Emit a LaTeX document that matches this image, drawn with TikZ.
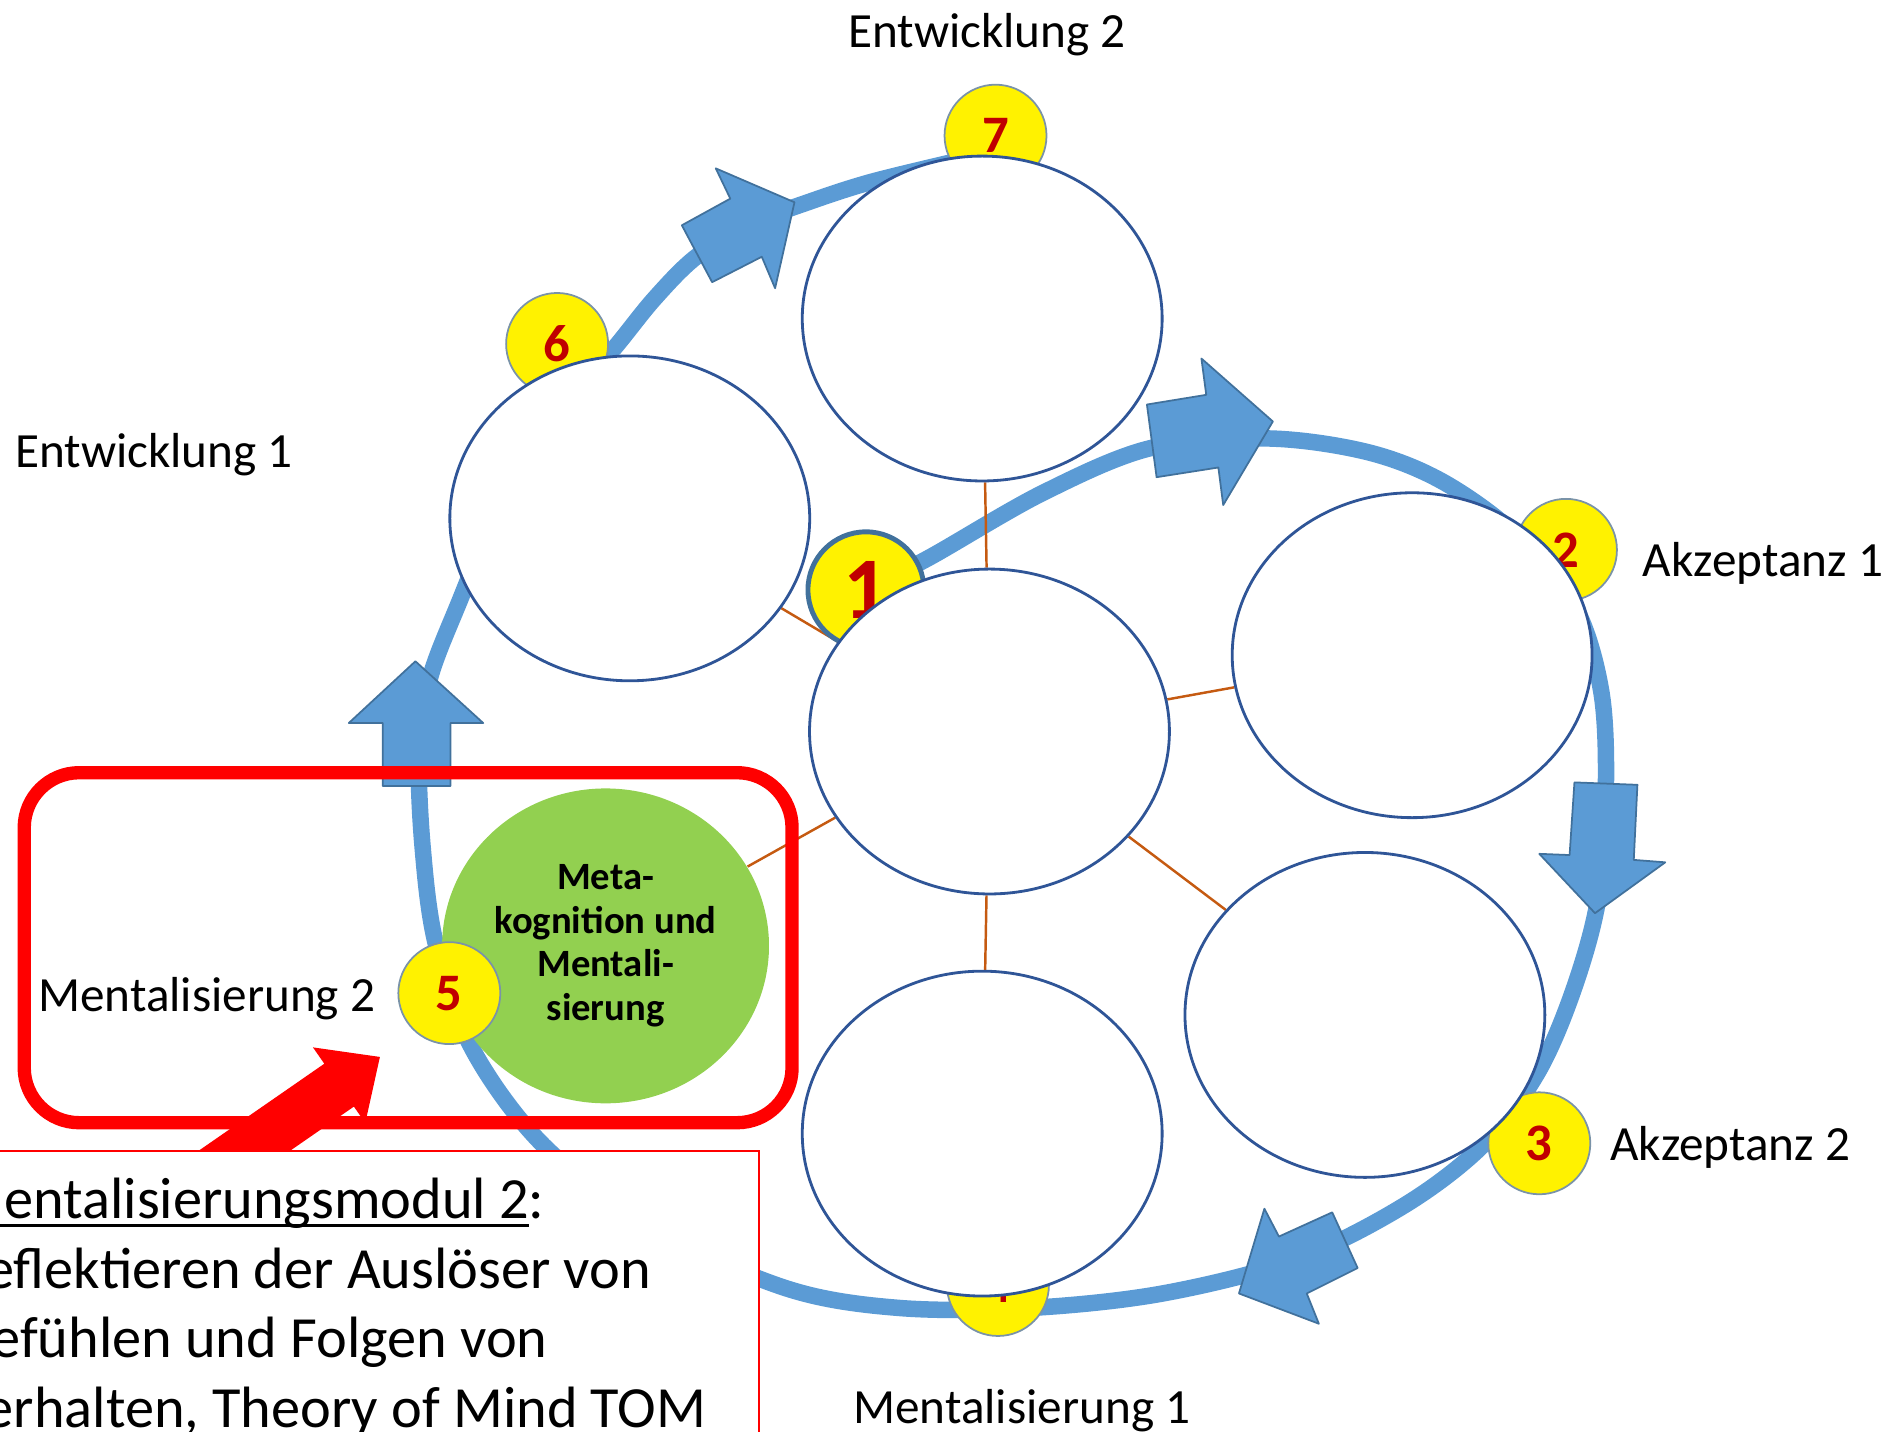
\documentclass[tikz,border=0pt]{standalone}
\usepackage{fontspec}
\setmainfont{Carlito}
\usetikzlibrary{shapes.geometric}

\definecolor{ringblue}{HTML}{5B9BD5}
\definecolor{ringedge}{HTML}{41719C}
\definecolor{ovaledge}{HTML}{2F5597}
\definecolor{badgeedge}{HTML}{7A93A8}
\definecolor{linkbrown}{HTML}{C55A11}
\definecolor{badgered}{HTML}{C00000}
\definecolor{metagreen}{HTML}{92D050}
\definecolor{alertred}{HTML}{FF0000}

\pgfdeclarelayer{back}
\pgfdeclarelayer{mid}
\pgfdeclarelayer{front}
\pgfsetlayers{back,mid,main,front}

\newcommand\modline[1]{\setbox0=\hbox{#1}\rlap{\rule[-2.5pt]{\wd0}{0.75pt}}\box0}

\tikzset{
	oval/.style={ellipse,draw=ovaledge,line width=0.8pt,fill=white,minimum width=3.6cm,minimum height=3.25cm,inner sep=0pt},
	meta/.style={ellipse,fill=metagreen,minimum width=3.27cm,minimum height=3.15cm,inner sep=0pt,align=center,font=\fontsize{11}{12.4}\selectfont\bfseries},
	badge/.style={circle,draw=badgeedge,line width=0.5pt,fill=yellow,minimum size=1.02cm,inner sep=0pt,text=badgered,font=\fontsize{15}{15}\selectfont\bfseries},
	bigbadge/.style={badge,draw=ringedge,line width=1.4pt,minimum size=1.16cm,font=\fontsize{25}{25}\selectfont\bfseries},
	stage/.style={inner sep=0pt,font=\fontsize{14}{14}\selectfont},
	link/.style={draw=linkbrown,line width=0.7pt},
	ring/.style={draw=ringblue,line width=4.7pt},
	blk/.style={fill=ringblue,draw=ringedge,line width=0.5pt,line join=round},
	frame/.style={draw=alertred,line width=3.8pt,rounded corners=0.55cm},
	infobox/.style={draw=alertred,line width=0.6pt,fill=white},
	infotext/.style={inner sep=0pt,align=left,font=\fontsize{16.6}{19.9}\selectfont},
}

\begin{document}
\begin{tikzpicture}[x=0.012111cm,y=-0.012111cm]
	\useasboundingbox (0,0) rectangle (1568,1182);

	% the seven fields
	\node[oval] (entw2) at (811,263) {};
	\node[oval] (entw1) at (520,428) {};
	\node[oval] (kern) at (817,604) {};
	\node[oval] (akz1) at (1166,541) {};
	\node[oval] (akz2) at (1127,838) {};
	\node[oval] (ment1) at (811,936) {};
	\node[meta] (ment2) at (500,781) {Meta-\\kognition und\\Mentali-\\sierung};

	% ring and links behind
	\begin{pgfonlayer}{back}
		\draw[ring] plot[smooth,tension=0.55] coordinates {
			(715,487) (768,460) (861,407) (950,370) (1046,362) (1128,373) (1190,397)
			(1250,440) (1300,500) (1322,570) (1326,650) (1320,740) (1300,815) (1270,885)
			(1225,945) (1160,995) (1070,1040) (960,1068) (850,1080) (743,1080) (650,1064)
			(540,1015) (449,946) (390,866) (360,780) (349,700) (346,620) (355,560)
			(380,495) (420,400) (465,333) (505,290) (540,247) (575,212) (620,185)
			(670,166) (720,150) (790,133)};
		\foreach \x in {entw2,entw1,akz1,akz2,ment1,ment2}
		\draw[link] (kern) -- (\x);
	\end{pgfonlayer}

	% numbers and arrow heads on the ring
	\begin{pgfonlayer}{mid}
		\node[badge] (b7) at (822,112) {7};
		\node[badge] (b6) at (460,284) {6};
		\node[bigbadge] (b1) at (715,487) {1};
		\node[badge] (b2) at (1293,454) {2};
		\node[badge] (b3) at (1271,944) {3};
		\node[badge] (b4) at (824,1061) {4};
		\filldraw[blk] (947,334) -- (996,326) -- (992,296) -- (1051,348) -- (1010,417) -- (1006,386) -- (955,394) -- cycle;
		\filldraw[blk] (1300,646) -- (1352,648) -- (1349,710) -- (1375,712) -- (1317,754) -- (1271,705) -- (1296,706) -- cycle;
		\filldraw[blk] (1100,1001) -- (1121,1047) -- (1079,1068) -- (1089,1093) -- (1023,1068) -- (1044,998) -- (1056,1021) -- cycle;
		\filldraw[blk] (343,546) -- (399,597) -- (372,597) -- (372,649) -- (316,649) -- (316,597) -- (288,597) -- cycle;
		\filldraw[blk] (591,139) -- (603,164) -- (563,186) -- (588,233) -- (629,212) -- (640,238) -- (656,167) -- cycle;
	\end{pgfonlayer}

	\begin{pgfonlayer}{front}
		\clip (0,0) rectangle (1568,1182);
		\node[badge] (b5) at (371,820) {5};
		\node[stage,anchor=base] (lentw2) at (815,39) {Entwicklung 2};
		\node[stage,anchor=base west] (lentw1) at (12,386) {Entwicklung 1};
		\node[stage,anchor=base west] (lakz1) at (1356,476) {Akzeptanz 1};
		\node[stage,anchor=base west] (lakz2) at (1329,958) {Akzeptanz 2};
		\node[stage,anchor=base west] (lment1) at (704,1175) {Mentalisierung 1};
		\node[stage,anchor=base west] (lment2) at (31,835) {Mentalisierung 2};
		% highlight of module 5
		\draw[frame] (20,638) rectangle (654,927);
		\fill[alertred] (313.7,872.7) -- (301.6,927.2) -- (292.2,913.7) -- (177.1,993.4)
		-- (152.7,958.0) -- (267.8,878.3) -- (258.4,864.8) -- cycle;
		\draw[infobox] (-60,950) rectangle (627,1250);
		\node[infotext,anchor=base west] (info) at (-38,1179)
		{\modline{Mentalisierungsmodul 2}:\\Reflektieren der Auslöser von\\Gefühlen und Folgen von\\Verhalten, Theory of Mind TOM};
	\end{pgfonlayer}
\end{tikzpicture}
\end{document}
